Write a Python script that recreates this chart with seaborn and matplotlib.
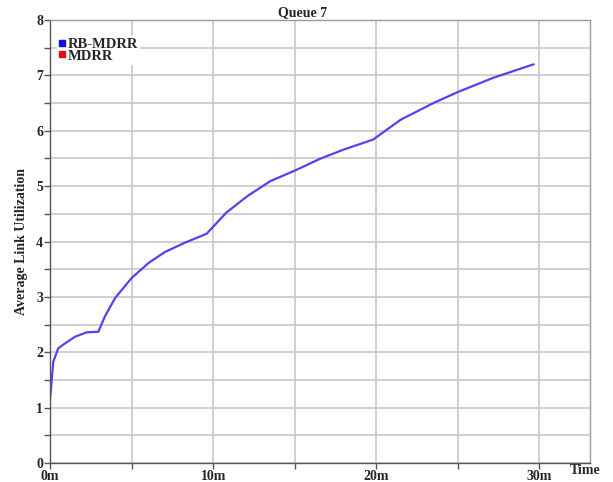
import numpy as np
import pandas as pd
import matplotlib
matplotlib.use('Agg')
import matplotlib.pyplot as plt
from matplotlib.lines import Line2D
import seaborn as sns

# Time in minutes, average link utilization
time_min = [0.0, 0.2, 0.5, 0.92, 1.53, 2.25, 2.96, 3.37, 3.99, 5.0, 6.03, 7.04, 8.28,
            9.6, 10.8, 12.1, 13.5, 15.0, 16.6, 18.0, 19.8, 21.5, 23.5, 25.0, 27.2, 29.65]
rb_mdrr = [1.14, 1.83, 2.07, 2.16, 2.28, 2.36, 2.37, 2.65, 2.98, 3.34, 3.61, 3.81, 3.98,
           4.14, 4.52, 4.82, 5.09, 5.28, 5.50, 5.66, 5.84, 6.20, 6.50, 6.70, 6.96, 7.20]
x_ticks = [0, 10, 20, 30]
x_labels = ['0m', '10m', '20m', '30m']
y_ticks = [0, 1, 2, 3, 4, 5, 6, 7, 8]

df = pd.DataFrame({'Time': time_min, 'Utilization': rb_mdrr})

sns.set_style('whitegrid')
plt.rcParams['font.family'] = ['Liberation Serif', 'DejaVu Serif']
plt.rcParams['font.weight'] = 'bold'

fig = plt.figure(figsize=(6.13, 4.82), dpi=100)
ax = fig.add_axes([0.0816, 0.0394, 0.8809, 0.9191])

sns.lineplot(data=df, x='Time', y='Utilization', color='#5a3ff0', linewidth=1.6, ax=ax)

ax.set_xlim(0, 33.1)
ax.set_ylim(0, 8)
ax.set_xticks(x_ticks)
ax.set_xticks([5, 15, 25], minor=True)
ax.set_xticklabels(x_labels, fontsize=10, fontweight='bold')
ax.set_yticks(y_ticks)
ax.set_yticks(np.arange(0.5, 8, 1.0), minor=True)
ax.set_yticklabels([str(v) for v in y_ticks], fontsize=10, fontweight='bold')
ax.grid(True, which='both', color='#c8c8c8', linewidth=1.2)
ax.tick_params(axis='both', which='both', direction='out', length=4, width=1,
               color='#555555', pad=1, left=True, bottom=True)
for s in ax.spines.values():
    s.set_color('#555555')
    s.set_linewidth(1.0)
ax.spines['top'].set_color('#999999')
ax.spines['right'].set_color('#999999')

ax.set_xlabel('')
ax.set_ylabel('Average Link Utilization', fontsize=10, fontweight='bold', labelpad=6)
fig.text(303 / 613, 1 - 13 / 482, 'Queue 7', fontsize=10, fontweight='bold',
         ha='center', va='center')
fig.text(585 / 613, 1 - 470 / 482, 'Time', fontsize=10, fontweight='bold',
         ha='center', va='center')

handles = [Line2D([], [], marker='s', linestyle='none', color='#1010ee', markersize=4),
           Line2D([], [], marker='s', linestyle='none', color='#e01010', markersize=4)]
ax.legend(handles, ['RB-MDRR', 'MDRR'], loc='upper left', bbox_to_anchor=(0.0, 0.98),
          frameon=True, framealpha=1, edgecolor='white', fancybox=False,
          handlelength=0.4, handletextpad=0.2, labelspacing=-0.1, borderpad=0.1,
          prop={'size': 10.5, 'weight': 'bold'})

fig.savefig('out.png', dpi=100)
